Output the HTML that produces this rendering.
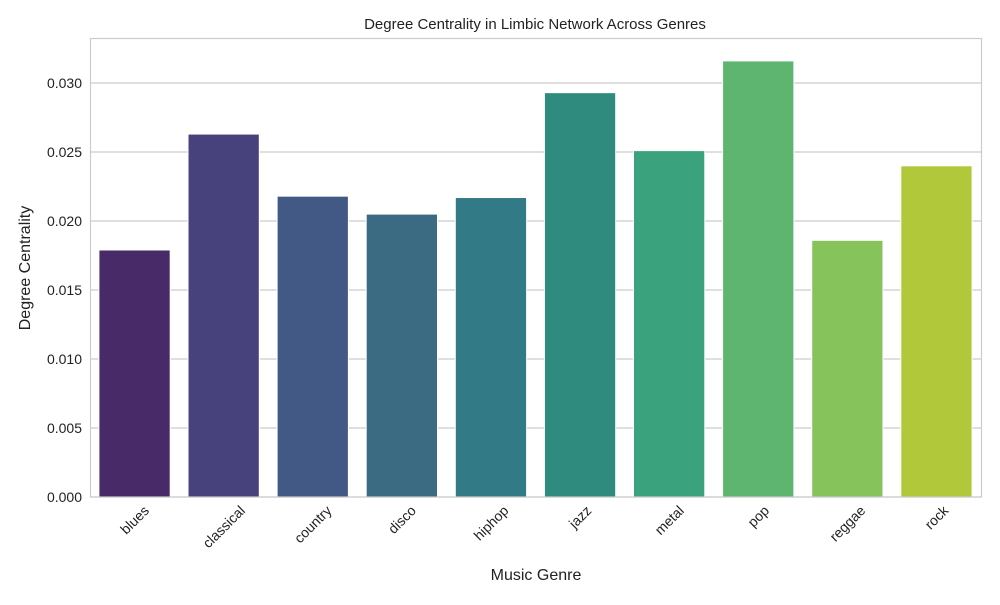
<!DOCTYPE html>
<html><head><meta charset="utf-8"><style>
body{margin:0;background:#fff;font-family:"Liberation Sans","DejaVu Sans",sans-serif;}
</style></head><body>
<svg id="chart" width="1000" height="600" xmlns="http://www.w3.org/2000/svg" font-family="Liberation Sans, DejaVu Sans, sans-serif">
<rect width="1000" height="600" fill="#fff"/>
<g id="grid"></g>
<g id="bars"></g>
<rect x="90.5" y="38.5" width="891" height="458.5" fill="none" stroke="#ccc" stroke-width="1.2"/>
<g id="yticks"></g>
<g id="xticks"></g>
<text x="535" y="29" text-anchor="middle" font-size="15" fill="#222">Degree Centrality in Limbic Network Across Genres</text>
<text x="536" y="580" text-anchor="middle" font-size="16" fill="#222">Music Genre</text>
<text transform="translate(30,268) rotate(-90)" text-anchor="middle" font-size="16" fill="#222">Degree Centrality</text>
</svg>
<script>
const categories=["blues","classical","country","disco","hiphop","jazz","metal","pop","reggae","rock"];
const values=[0.0179,0.0263,0.0218,0.0205,0.0217,0.0293,0.0251,0.0316,0.0186,0.0240];
const colors=["#482a69","#47417c","#425985","#3a6b83","#327b86","#2e8b7e","#3aa27c","#5db56f","#87c35b","#b0c83a"];
const yTicks=[0,0.005,0.010,0.015,0.020,0.025,0.030];
const yLabels=["0.000","0.005","0.010","0.015","0.020","0.025","0.030"];
const NS="http://www.w3.org/2000/svg";
const x0=90,pw=891,y0=497,ppu=13800;
const yS=v=>y0-v*ppu;
const band=pw/categories.length;
const xS=i=>x0+band*i;
function mk(t,a,p){const e=document.createElementNS(NS,t);for(const k in a)e.setAttribute(k,a[k]);document.getElementById(p).appendChild(e);return e;}
yTicks.forEach((v,i)=>{
 const g=mk("line",{x1:x0,x2:x0+pw,y1:yS(v),y2:yS(v),stroke:"#ccc","stroke-width":1.2},"grid");
 
 
 const t=mk("text",{x:x0-8,y:yS(v)+5,"text-anchor":"end","font-size":14,fill:"#222"},"yticks");
 t.textContent=yLabels[i];
 
 
});
categories.forEach((c,i)=>{
 const w=band*0.8,x=xS(i)+band*0.1;
 const r=mk("rect",{x:x,y:yS(values[i]),width:w,height:y0-yS(values[i]),fill:colors[i],stroke:"#fff","stroke-width":1},"bars");
 
 
 const cx=xS(i)+band/2;
 const t=mk("text",{x:0,y:5,"text-anchor":"middle","font-size":14,fill:"#222"},"xticks");
 t.textContent=c;
 
 
 const L=t.getComputedTextLength();
 const cy=y0+6+(L+14)*0.354;
 t.setAttribute("transform",`translate(${cx},${cy}) rotate(-45)`);
});
</script>
</body></html>
